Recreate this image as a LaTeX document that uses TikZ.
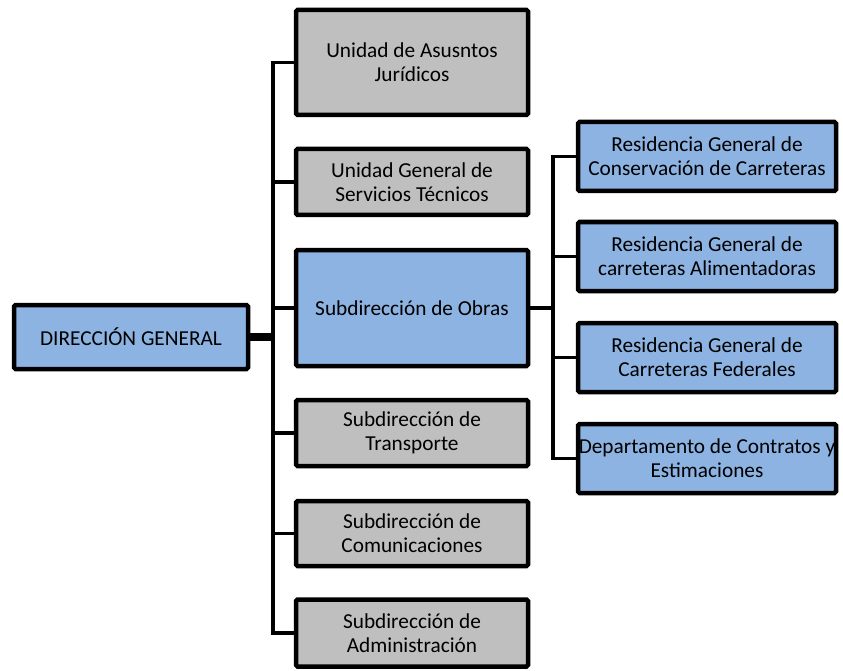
\documentclass[tikz,border=0pt]{standalone}
\usepackage{fontspec}
\setmainfont{Carlito}
\definecolor{boxblue}{HTML}{8DB3E2}
\definecolor{boxgrey}{HTML}{BFBFBF}
\begin{document}
\begin{tikzpicture}[x=1pt,y=-1pt,
  box/.style={draw=black, line width=4.5pt, rounded corners=1.5pt, align=center,
    font=\fontsize{21.3}{24}\selectfont, inner sep=0pt},
  grey/.style={box, fill=boxgrey, minimum width=232pt},
  blue/.style={box, fill=boxblue},
  conn/.style={line width=3.5pt, line join=miter}]
\useasboundingbox (0,0) rectangle (843,671);
\node[blue, minimum width=234pt, minimum height=64pt] (dg) at (131,337) {DIRECCIÓN GENERAL};
\node[grey, minimum height=105pt] (b1) at (412,62.5) {Unidad de Asusntos\\Jurídicos};
\node[grey, minimum height=66pt] (b2) at (412,182) {Unidad General de\\Servicios Técnicos};
\node[blue, minimum width=232pt, minimum height=116pt] (b3) at (412,308) {Subdirección de Obras};
\node[grey, minimum height=66pt] (b4) at (412,433) {Subdirección de\\Transporte};
\node[grey, minimum height=65pt] (b5) at (412,533.5) {Subdirección de\\Comunicaciones};
\node[grey, minimum height=67pt] (b6) at (412,633) {Subdirección de\\Administración};
\node[blue, minimum width=258pt, minimum height=69pt] (r1) at (707,156.5) {Residencia General de\\Conservación de Carreteras};
\node[blue, minimum width=258pt, minimum height=69pt] (r2) at (707,256.5) {Residencia General de\\carreteras Alimentadoras};
\node[blue, minimum width=258pt, minimum height=69pt] (r3) at (707,357.5) {Residencia General de\\Carreteras Federales};
\node[blue, minimum width=258pt, minimum height=69pt] (r4) at (707,458.5) {Departamento de Contratos y\\Estimaciones};
\coordinate (lt) at (273,0);
\coordinate (rt) at (553,0);
\draw[line width=8pt] (dg.east) -- (dg.east -| lt);
\draw[conn] (b1.west) -- (b1.west -| lt) -- (b6.west -| lt) -- (b6.west);
\draw[conn] (b2.west) -- (b2.west -| lt);
\draw[conn] (b3.west) -- (b3.west -| lt);
\draw[conn] (b4.west) -- (b4.west -| lt);
\draw[conn] (b5.west) -- (b5.west -| lt);
\draw[conn] (b3.east) -- (b3.east -| rt);
\draw[conn] (r1.west) -- (r1.west -| rt) -- (r4.west -| rt) -- (r4.west);
\draw[conn] (r2.west) -- (r2.west -| rt);
\draw[conn] (r3.west) -- (r3.west -| rt);
\end{tikzpicture}
\end{document}
